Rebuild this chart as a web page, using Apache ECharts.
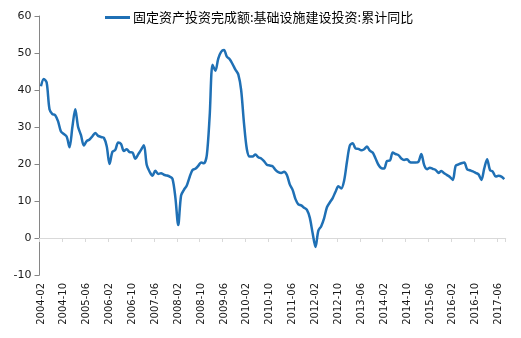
<!DOCTYPE html>
<html><head><meta charset="utf-8">
<script src="https://cdn.jsdelivr.net/npm/echarts@6/dist/echarts.min.js"></script>
<style>html,body{margin:0;padding:0;background:#fff}#c{width:521px;height:338px}</style>
</head><body><div id="c"></div>
<script>
const seriesName = '固定资产投资完成额:基础设施建设投资:累计同比';
const startYear = 2004, startMonth = 2, monthCount = 163;
const yTicks = {min: -10, max: 60, interval: 10};
const values = [
41.0,43.0,42.0,34.8,33.5,33.2,31.5,28.8,28.1,27.4,
24.5,30.0,34.8,30.0,27.8,25.0,26.2,26.6,27.5,28.4,
27.6,27.3,27.1,24.8,20.0,23.3,23.8,25.8,25.4,23.5,
24.0,23.2,23.1,21.4,22.6,23.8,25.1,19.7,17.9,16.8,
18.2,17.3,17.5,17.1,16.9,16.6,16.0,11.0,3.5,11.5,
13.0,14.2,16.5,18.4,18.7,19.5,20.4,20.2,22.4,33.0,
46.8,45.2,48.5,50.3,50.8,49.0,48.3,47.0,45.5,44.2,
40.0,31.0,24.0,22.0,22.0,22.6,21.8,21.5,20.8,19.8,
19.6,19.4,18.4,17.8,17.6,17.9,17.0,14.5,13.0,10.5,
9.1,8.8,8.2,7.6,5.5,1.3,-2.4,2.0,3.2,5.3,
8.3,9.6,10.8,12.5,14.0,13.4,15.5,20.6,25.0,25.6,
24.2,24.1,23.7,24.0,24.7,23.6,23.1,21.5,19.8,18.9,
18.8,20.8,20.9,23.1,22.7,22.4,21.5,21.1,21.3,20.5,
20.4,20.4,20.6,22.7,19.7,18.6,19.0,18.7,18.4,17.6,
18.1,17.5,17.0,16.5,15.7,19.5,19.9,20.2,20.4,18.6,
18.3,18.0,17.6,17.2,15.7,18.8,21.3,18.4,17.9,16.6,
16.8,16.6,15.9
];
const categories = [];
for (let k = 0; k < monthCount; k++) {
  const m = startMonth - 1 + k;
  const y = startYear + Math.floor(m / 12);
  const mm = (m % 12) + 1;
  categories.push(y + '-' + (mm < 10 ? '0' + mm : mm));
}
const chart = echarts.init(document.getElementById('c'), null, {renderer: 'canvas'});
const font = 'DejaVu Sans, Verdana, sans-serif';
chart.setOption({
  animation: false,
  backgroundColor: '#fff',
  grid: {left: 39.5, right: 15.3, top: 16, bottom: 63, containLabel: false},
  legend: {
    show: true, left: 105, top: 11, padding: 0, itemWidth: 25, itemHeight: 3, itemGap: 10,
    icon: 'rect',
    textStyle: {fontFamily: 'Noto Sans CJK SC', fontSize: 13, color: '#000', padding: [0, 0, 0, -2]},
    data: [seriesName]
  },
  xAxis: [{
    type: 'category', data: categories, boundaryGap: true,
    axisLine: {show: true, onZero: true, lineStyle: {color: '#d9d9d9', width: 1}},
    axisTick: {show: true, interval: 7, length: 4, lineStyle: {color: '#d9d9d9'}},
    axisLabel: {show: false},
    splitLine: {show: false}
  }, {
    type: 'category', data: categories, boundaryGap: true, position: 'bottom',
    axisLine: {show: false, onZero: false}, axisTick: {show: false},
    axisLabel: {show: true, interval: 7, rotate: 90, margin: 8, fontFamily: font, fontSize: 10, color: '#1a1a1a'},
    splitLine: {show: false}
  }],
  yAxis: {
    type: 'value', min: yTicks.min, max: yTicks.max, interval: yTicks.interval,
    axisLine: {show: true, lineStyle: {color: '#868686'}},
    axisTick: {show: true, length: 5, lineStyle: {color: '#868686'}},
    axisLabel: {fontFamily: font, fontSize: 11, color: '#1a1a1a', margin: 8},
    splitLine: {show: false}
  },
  series: [{
    name: seriesName, type: 'line', xAxisIndex: 0, data: values,
    symbol: 'none', smooth: 0.3,
    lineStyle: {color: '#1f70b5', width: 2.5},
    itemStyle: {color: '#1f70b5'}
  }]
});
</script></body></html>
